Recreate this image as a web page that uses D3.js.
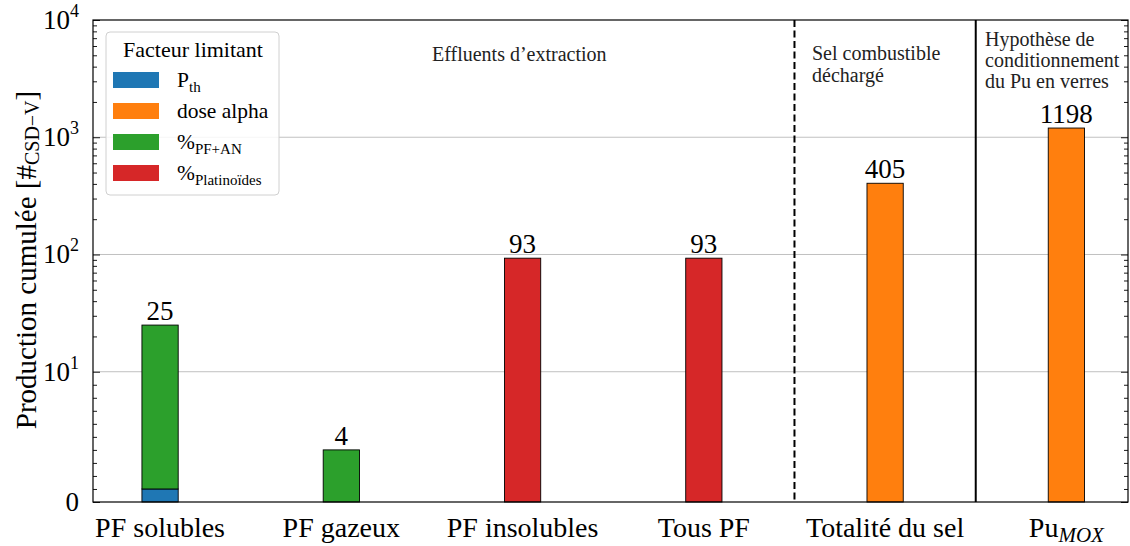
<!DOCTYPE html>
<html>
<head>
<meta charset="utf-8">
<script src="https://cdn.jsdelivr.net/npm/d3@7"></script>
<style>
  body { margin: 0; background: #fff; }
  svg { font-family: "Liberation Serif", "Times New Roman", serif; }
</style>
</head>
<body>
<svg id="chart" width="1130" height="546"></svg>
<script>
// données
const categories = ["PF solubles", "PF gazeux", "PF insolubles", "Tous PF", "Totalité du sel", "PuMOX"];
const pth        = [1, 0, 0, 0, 0, 0];
const pfAn       = [24, 4, 0, 0, 0, 0];
const platino    = [0, 0, 93, 93, 0, 0];
const doseAlpha  = [0, 0, 0, 0, 405, 1198];
const totals     = [25, 4, 93, 93, 405, 1198];
const yMajor     = [0, 10, 100, 1000, 10000];
const yMajorLbl  = [["0", ""], ["10", "1"], ["10", "2"], ["10", "3"], ["10", "4"]];

const series = [
  { key: "Pth", values: pth, color: "#1f77b4" },
  { key: "pfan", values: pfAn, color: "#2ca02c" },
  { key: "plat", values: platino, color: "#d62728" },
  { key: "alpha", values: doseAlpha, color: "#ff7f0e" }
];

const svg = d3.select("#chart");
const pLeft = 93, pRight = 1128, pTop = 20, pBottom = 502;

// symlog façon matplotlib (linthresh = 10, linscale = 1)
const linthresh = 10, linscaleAdj = 1 / (1 - 1 / 10);
function symT(v) {
  if (v <= linthresh) return v / linthresh * linscaleAdj;
  return linscaleAdj + Math.log10(v / linthresh);
}
const yLin = d3.scaleLinear().domain([0, symT(10000)]).range([pBottom, pTop]);
const y = v => yLin(symT(v));
const x = d3.scaleLinear().domain([-0.37, 5.34]).range([pLeft, pRight]);
const barW = x(0.2) - x(0);

// grille (zone log seulement)
svg.append("g").selectAll("line")
  .data([10, 100, 1000])
  .join("line")
  .attr("x1", pLeft).attr("x2", pRight)
  .attr("y1", d => y(d)).attr("y2", d => y(d))
  .attr("stroke", "#b0b0b0").attr("stroke-width", 0.8);

// barres empilées
const stacked = [];
categories.forEach((c, i) => {
  let base = 0;
  series.forEach(s => {
    const v = s.values[i];
    if (v > 0) {
      stacked.push({ i, y0: base, y1: base + v, color: s.color });
      base += v;
    }
  });
});
svg.append("g").selectAll("rect")
  .data(stacked)
  .join("rect")
  .attr("x", d => x(d.i) - barW / 2)
  .attr("width", barW)
  .attr("y", d => y(d.y1))
  .attr("height", d => y(d.y0) - y(d.y1))
  .attr("fill", d => d.color)
  .attr("stroke", "#000").attr("stroke-width", 0.9);

// valeurs au-dessus des barres
svg.append("g").selectAll("text")
  .data(totals)
  .join("text")
  .attr("x", (d, i) => x(i))
  .attr("y", d => y(d) - 5)
  .attr("text-anchor", "middle")
  .attr("font-size", 27)
  .text(d => d);

// séparateurs
svg.append("line")
  .attr("x1", x(3.5)).attr("x2", x(3.5)).attr("y1", pTop).attr("y2", pBottom)
  .attr("stroke", "#000").attr("stroke-width", 2).attr("stroke-dasharray", "7,3.5");
svg.append("line")
  .attr("x1", x(4.5)).attr("x2", x(4.5)).attr("y1", pTop).attr("y2", pBottom)
  .attr("stroke", "#000").attr("stroke-width", 2);

// textes de sections
function multiline(lines, x0, y0, dy) {
  const t = svg.append("text").attr("font-size", 20).attr("fill", "#222");
  lines.forEach((l, k) => t.append("tspan").attr("x", x0).attr("y", y0 + k * dy).text(l));
}
multiline(["Effluents d’extraction"], 432, 61, 0);
multiline(["Sel combustible", "déchargé"], 812, 60, 21.5);
multiline(["Hypothèse de", "conditionnement", "du Pu en verres"], 985, 46, 21);

// ticks mineurs
const minor = [1, 2, 3, 4, 5, 6, 7, 8, 9];
[10, 100, 1000].forEach(dec => [2, 3, 4, 5, 6, 7, 8, 9].forEach(m => minor.push(m * dec)));

const axL = d3.axisLeft(yLin).tickValues(yMajor.map(symT)).tickSize(-7).tickFormat("");
const axLm = d3.axisLeft(yLin).tickValues(minor.map(symT)).tickSize(-4).tickFormat("");
const axR = d3.axisRight(yLin).tickValues(yMajor.map(symT)).tickSize(-7).tickFormat("");
const axRm = d3.axisRight(yLin).tickValues(minor.map(symT)).tickSize(-4).tickFormat("");
[[axL, pLeft], [axLm, pLeft], [axR, pRight], [axRm, pRight]].forEach(([a, px]) => {
  const g = svg.append("g").attr("transform", `translate(${px},0)`).call(a);
  g.select(".domain").remove();
  g.selectAll("line").attr("stroke", "#000").attr("stroke-width", 0.9);
});

// cadre
svg.append("rect")
  .attr("x", pLeft).attr("y", pTop).attr("width", pRight - pLeft).attr("height", pBottom - pTop)
  .attr("fill", "none").attr("stroke", "#000").attr("stroke-width", 1.2);

// étiquettes axe y
const yl = svg.append("g").selectAll("text")
  .data(yMajor)
  .join("text")
  .attr("x", 79)
  .attr("y", d => y(d) + 9)
  .attr("text-anchor", "end")
  .attr("font-size", 27);
yl.each(function (d, i) {
  const t = d3.select(this);
  t.append("tspan").text(yMajorLbl[i][0]);
  if (yMajorLbl[i][1]) t.append("tspan").attr("font-size", 18).attr("dy", -12).text(yMajorLbl[i][1]);
});

// étiquettes axe x
const xl = svg.append("g").selectAll("text")
  .data(categories)
  .join("text")
  .attr("x", (d, i) => x(i))
  .attr("y", 537)
  .attr("text-anchor", "middle")
  .attr("font-size", 28);
xl.each(function (d) {
  const t = d3.select(this);
  if (d === "PuMOX") {
    t.append("tspan").text("Pu");
    t.append("tspan").attr("font-size", 21).attr("font-style", "italic").attr("dy", 5).text("MOX");
  } else t.text(d);
});

// titre axe y
const yt = svg.append("text")
  .attr("transform", `translate(36,260) rotate(-90)`)
  .attr("text-anchor", "middle")
  .attr("font-size", 29);
yt.append("tspan").text("Production cumulée [#");
yt.append("tspan").attr("font-size", 20).attr("dy", 3).text("CSD−V");
yt.append("tspan").attr("dy", -3).text("]");

// légende
const lg = svg.append("g");
lg.append("rect")
  .attr("x", 106).attr("y", 32).attr("width", 173).attr("height", 163)
  .attr("rx", 4).attr("fill", "#fff").attr("fill-opacity", 0.85)
  .attr("stroke", "#d0d0d0");
lg.append("text").attr("x", 193).attr("y", 57).attr("text-anchor", "middle")
  .attr("font-size", 22).text("Facteur limitant");
const legendItems = [
  { main: "P", sub: "th", color: "#1f77b4" },
  { main: "dose alpha", sub: "", color: "#ff7f0e" },
  { main: "%", sub: "PF+AN", color: "#2ca02c" },
  { main: "%", sub: "Platinoïdes", color: "#d62728" }
];
legendItems.forEach((it, k) => {
  const yy = 72 + k * 31;
  lg.append("rect").attr("x", 113).attr("y", yy).attr("width", 46).attr("height", 16)
    .attr("fill", it.color);
  const t = lg.append("text").attr("x", 177).attr("y", yy + 15).attr("font-size", 21.5);
  t.append("tspan").text(it.main);
  if (it.sub) t.append("tspan").attr("font-size", 15).attr("dy", 5).text(it.sub);
});
</script>
</body>
</html>
